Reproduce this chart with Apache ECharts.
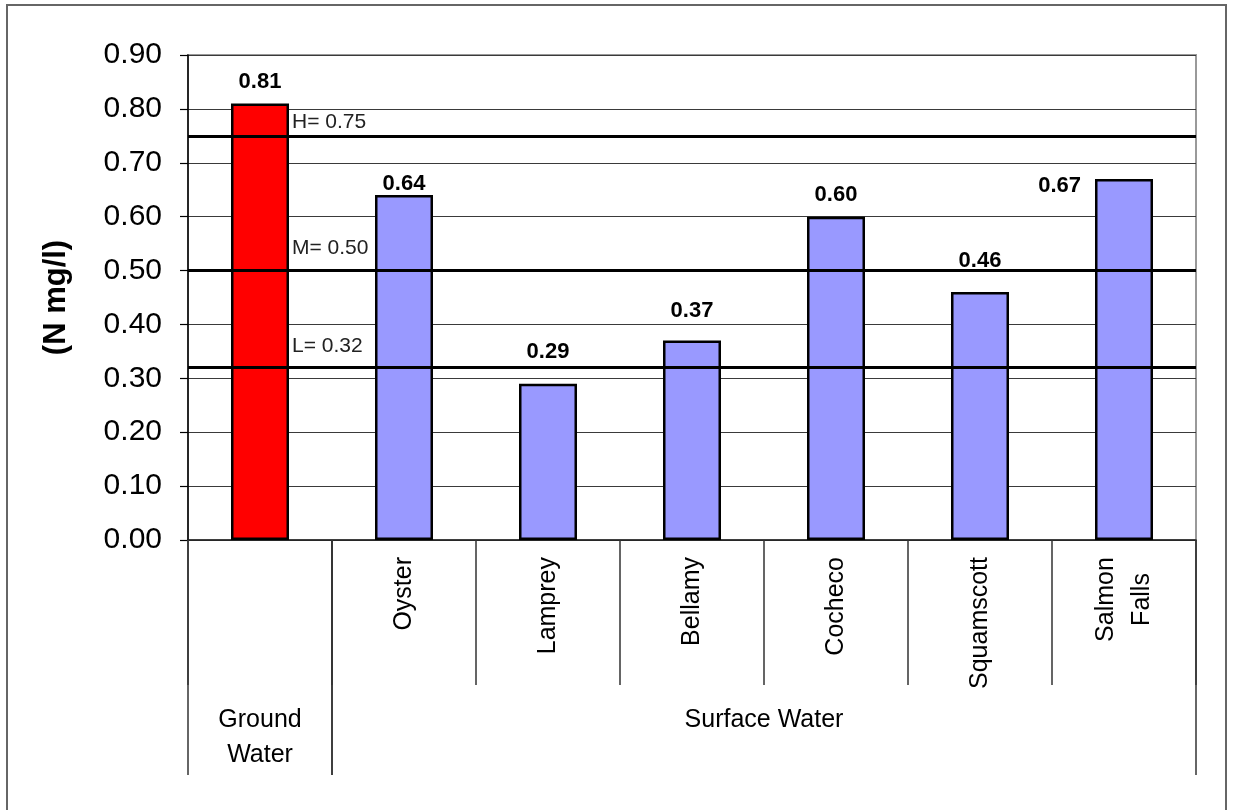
<!DOCTYPE html>
<html>
<head>
<meta charset="utf-8">
<script src="https://cdn.jsdelivr.net/npm/echarts@6/dist/echarts.min.js"></script>
<style>
  html, body { margin: 0; padding: 0; background: #fff; }
  #chart { width: 1234px; height: 810px; }
</style>
</head>
<body>
<div id="chart"></div>
<script>
// Sampling sites; the first slot is the ground-water sample, which has no site name
const sites = ['', 'Oyster', 'Lamprey', 'Bellamy', 'Cocheco', 'Squamscott', 'Salmon\nFalls'];
// Nitrogen concentration (N mg/l)
const nitrogen = [0.81, 0.64, 0.29, 0.37, 0.60, 0.46, 0.67];
// Second-level grouping of the sites: name, first site index, last site index
const groupNames = ['Ground\nWater', 'Surface Water'];
const groupFirst = [0, 1];
const groupLast = [0, 6];
// Reference levels drawn across the plot
const levelNames = ['H', 'M', 'L'];
const levelValues = [0.75, 0.50, 0.32];
// Value axis range and step
const yMin = 0, yMax = 0.9, yStep = 0.1;

const FONT = '"Liberation Sans", Arial, Helvetica, sans-serif';
const GROUND_COLOR = '#FF0000';
const SURFACE_COLOR = '#9999FF';

// How far each value label sits above its bar (last one sits to the left of its bar)
const labelLift = [22, 11, 32, 30, 22, 31, null];
// Vertical offset of each reference-level caption above its line
const levelLift = [14, 22, 21];

function barLabel(i) {
  if (labelLift[i] == null) {
    return { position: [-14, 7], align: 'right', verticalAlign: 'middle' };
  }
  return { position: ['50%', -labelLift[i]], align: 'center', verticalAlign: 'middle' };
}

function isGround(i) {
  return i >= groupFirst[0] && i <= groupLast[0];
}

const chart = echarts.init(document.getElementById('chart'), null, { renderer: 'canvas' });

const option = {
  animation: false,
  backgroundColor: '#fff',
  grid: {
    left: 188, right: 38, top: 55, bottom: 270,
    show: true, borderColor: '#999', borderWidth: 2, backgroundColor: 'transparent'
  },
  xAxis: {
    type: 'category',
    data: sites,
    axisLine: { show: true, lineStyle: { color: '#222', width: 1.5 } },
    axisTick: { show: true, interval: 0, length: 145, alignWithLabel: false, lineStyle: { color: '#333', width: 1.5 } },
    axisLabel: {
      interval: 0, rotate: 90, margin: 17,
      fontSize: 25, fontFamily: FONT, color: '#000',
      formatter: function (name) {
        if (name.indexOf('\n') < 0) return name;
        return name.split('\n').map(function (l) { return '{c|' + l + '}'; }).join('\n');
      },
      rich: { c: { width: 85, align: 'center', fontSize: 25, fontFamily: FONT, color: '#000', lineHeight: 36 } }
    },
    splitLine: { show: false }
  },
  yAxis: {
    type: 'value',
    min: yMin, max: yMax, interval: yStep,
    name: '(N mg/l)', nameLocation: 'middle', nameGap: 116, nameRotate: 90,
    nameTextStyle: { fontSize: 31, fontWeight: 'bold', fontFamily: FONT, color: '#000' },
    axisLine: { show: true, lineStyle: { color: '#000', width: 1.5 } },
    axisTick: { show: true, length: 8, lineStyle: { color: '#000', width: 1.2 } },
    axisLabel: {
      fontSize: 30, fontFamily: FONT, color: '#000', margin: 26,
      formatter: function (v) { return v.toFixed(2); }
    },
    splitLine: { show: true, lineStyle: { color: '#3a3a3a', width: 1.2 } }
  },
  series: [
    {
      type: 'bar',
      barWidth: 58,
      data: nitrogen.map(function (v, i) {
        return {
          value: v,
          itemStyle: { color: isGround(i) ? GROUND_COLOR : SURFACE_COLOR },
          label: barLabel(i)
        };
      }),
      itemStyle: { borderColor: '#000', borderWidth: 2.5 },
      label: {
        show: true,
        fontSize: 22, fontWeight: 'bold', fontFamily: FONT, color: '#000',
        formatter: function (p) { return p.value.toFixed(2); }
      },
      markLine: {
        silent: true,
        symbol: 'none',
        label: { show: false },
        lineStyle: { color: '#000', width: 3.2, type: 'solid' },
        data: levelValues.map(function (v) { return { yAxis: v }; })
      },
      z: 2
    },
    {
      // Second row of the category axis: group separators and group names
      type: 'custom',
      silent: true,
      clip: false,
      data: groupNames.map(function (n, i) { return [groupFirst[i], groupLast[i], 0]; }),
      encode: { x: [0, 1], y: 2 },
      renderItem: function (params, api) {
        const i = params.dataIndex;
        const a = api.coord([api.value(0), 0]);
        const b = api.coord([api.value(1), 0]);
        const bw = api.size([1, 0])[0];
        const x0 = Math.round(a[0] - bw / 2);
        const x1 = Math.round(b[0] + bw / 2);
        const y0 = a[1];
        const y1 = y0 + 235;
        return {
          type: 'group',
          children: [
            { type: 'line', shape: { x1: x0, y1: y0, x2: x0, y2: y1 }, style: { stroke: '#333', lineWidth: 1.5 } },
            { type: 'line', shape: { x1: x1, y1: y0, x2: x1, y2: y1 }, style: { stroke: '#333', lineWidth: 1.5 } },
            {
              type: 'text',
              style: {
                text: groupNames[i], x: (x0 + x1) / 2, y: y0 + 163,
                align: 'center', verticalAlign: 'top',
                fontSize: 25, fontFamily: FONT, lineHeight: 35, fill: '#000'
              }
            }
          ]
        };
      },
      z: 1
    }
  ]
};

chart.setOption(option);

// Frame around the whole chart and captions for the reference levels
const captionX = chart.convertToPixel({ xAxisIndex: 0 }, 0) + 32;
const graphics = [
  {
    id: 'frame', type: 'rect', silent: true,
    shape: { x: 7, y: 5, width: 1219, height: 830 },
    style: { fill: 'none', stroke: '#666', lineWidth: 2 }
  }
];
levelValues.forEach(function (v, i) {
  graphics.push({
    id: 'level' + i, type: 'text', silent: true, z: 10,
    x: captionX,
    y: chart.convertToPixel({ yAxisIndex: 0 }, v) - levelLift[i],
    style: {
      text: levelNames[i] + '= ' + v.toFixed(2),
      fontSize: 21, fontFamily: FONT, fill: '#222',
      align: 'left', verticalAlign: 'middle'
    }
  });
});
chart.setOption({ graphic: graphics });
</script>
</body>
</html>
